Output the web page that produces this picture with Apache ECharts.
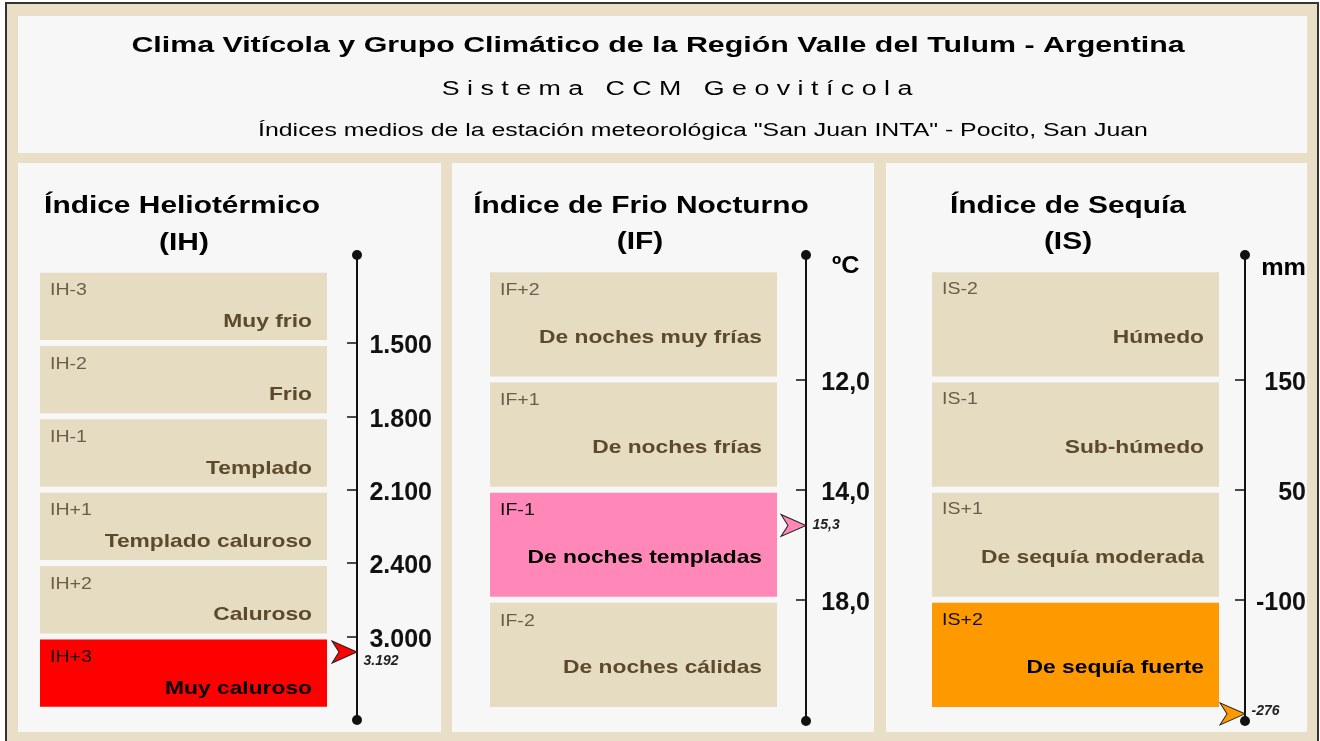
<!DOCTYPE html>
<html>
<head>
<meta charset="utf-8">
<script src="https://cdn.jsdelivr.net/npm/echarts@6/dist/echarts.min.js"></script>
<style>
  html, body { margin: 0; padding: 0; background: #fff; }
  #chart { width: 1320px; height: 741px; }
</style>
</head>
<body>
<div id="chart"></div>
<script>
// Índice Heliotérmico
const ihCodigos = ['IH-3', 'IH-2', 'IH-1', 'IH+1', 'IH+2', 'IH+3'];
const ihClases = ['Muy frio', 'Frio', 'Templado', 'Templado caluroso', 'Caluroso', 'Muy caluroso'];
const ihUmbrales = [1500, 1800, 2100, 2400, 3000];
const ihExtremos = [1200, 3900];
const ihValor = 3192;

// Índice de Frio Nocturno (ºC)
const ifCodigos = ['IF+2', 'IF+1', 'IF-1', 'IF-2'];
const ifClases = ['De noches muy frías', 'De noches frías', 'De noches templadas', 'De noches cálidas'];
const ifUmbrales = [12, 14, 18];
const ifExtremos = [10, 22];
const ifValor = 15.3;

// Índice de Sequía (mm)
const isCodigos = ['IS-2', 'IS-1', 'IS+1', 'IS+2'];
const isClases = ['Húmedo', 'Sub-húmedo', 'De sequía moderada', 'De sequía fuerte'];
const isUmbrales = [150, 50, -100];
const isExtremos = [250, -270];
const isValor = -276;

const FUENTE = '"Liberation Sans", Arial, sans-serif';
const BEIGE = '#E6DCC2';
const FONDO = '#F7F7F7';
const MARCO = '#E8DFC6';
const FLECHA = 'path://M0,0 L25,11 L0,22 L7,11 Z';

const miles = v => Math.round(v).toString().replace(/\B(?=(\d{3})+(?!\d))/g, '.');
const decimal = v => v.toFixed(1).replace('.', ',');
const entero = v => Math.round(v).toString();

// posición (en cajas) de un valor sobre la escala por tramos
function posicion(v, escala) {
  let i = 0;
  while (i < escala.length - 2 && (v - escala[i]) * (v - escala[i + 1]) > 0) i++;
  return i + (v - escala[i]) / (escala[i + 1] - escala[i]);
}

const paneles = [
  { codigos: ihCodigos, clases: ihClases, umbrales: ihUmbrales, extremos: ihExtremos, valor: ihValor,
    fmt: miles, color: '#FF0000', left: 40, width: 317, top: 255, height: 465, min: -0.2, max: 6.14,
    margen: 75, codeDy: 18, descDy: 49, marcaDy: 9 },
  { codigos: ifCodigos, clases: ifClases, umbrales: ifUmbrales, extremos: ifExtremos, valor: ifValor,
    fmt: decimal, color: '#FF88B8', left: 490, width: 316, top: 255, height: 466, min: -0.13, max: 4.1,
    margen: 64, codeDy: 18, descDy: 65, marcaDy: 0 },
  { codigos: isCodigos, clases: isClases, umbrales: isUmbrales, extremos: isExtremos, valor: isValor,
    fmt: entero, color: '#FF9900', left: 932, width: 313, top: 255, height: 466, min: -0.13, max: 4.1,
    margen: 61, codeDy: 17, descDy: 65, marcaDy: -3 }
];

const grid = [], xAxis = [], yAxis = [], series = [];

paneles.forEach((p, k) => {
  const escala = [p.extremos[0], ...p.umbrales, p.extremos[1]];
  const pos = posicion(p.valor, escala);
  const activo = Math.max(0, Math.min(p.clases.length - 1, Math.floor(pos)));
  const marcas = p.umbrales.map((u, i) => i + 1);

  grid.push({ left: p.left, top: p.top, width: p.width, height: p.height, outerBoundsMode: 'none' });
  xAxis.push({ gridIndex: k, type: 'value', min: 0, max: 1, show: false });
  yAxis.push({
    gridIndex: k, type: 'value', inverse: true, position: 'right',
    min: p.min, max: p.max,
    splitLine: { show: false },
    axisLine: { show: true, onZero: false, symbol: ['circle', 'circle'], symbolSize: [10, 10],
      lineStyle: { color: '#111', width: 2 } },
    axisTick: { show: true, inside: true, length: 10, customValues: marcas,
      lineStyle: { color: '#111', width: 1.5 } },
    axisLabel: { show: true, customValues: marcas, align: 'right', margin: p.margen,
      formatter: v => '{v|' + p.fmt(p.umbrales[Math.round(v) - 1]) + '}',
      rich: { v: { padding: [7, 0, 0, 0], color: '#111', fontFamily: FUENTE,
        fontWeight: 'bold', fontSize: 25 } } }
  });

  series.push({
    type: 'custom', xAxisIndex: k, yAxisIndex: k, silent: true, clip: false,
    data: p.clases.map((c, i) => [i, i + 1]),
    renderItem: (params, api) => {
      const i = params.dataIndex;
      const y0 = api.coord([0, api.value(0)])[1] + 3;
      const y1 = api.coord([0, api.value(1)])[1] - 3;
      const x0 = params.coordSys.x;
      const w = 287;
      const on = i === activo;
      return {
        type: 'group',
        children: [
          { type: 'rect', shape: { x: x0, y: y0, width: w, height: y1 - y0 },
            style: { fill: on ? p.color : BEIGE } },
          { type: 'text', x: x0 + 10, y: y0 + p.codeDy, scaleX: 1.15,
            style: { text: p.codigos[i], fill: on ? '#111' : '#6B5E4A',
              font: '17px ' + FUENTE, align: 'left', verticalAlign: 'middle' } },
          { type: 'text', x: x0 + w - 15, y: y0 + p.descDy, scaleX: 1.2,
            style: { text: p.clases[i], fill: on ? '#000' : '#5B4A2B',
              font: 'bold 19px ' + FUENTE, align: 'right', verticalAlign: 'middle' } }
        ]
      };
    }
  });

  series.push({
    type: 'scatter', xAxisIndex: k, yAxisIndex: k, silent: true, clip: false, z: 5,
    data: [[1, pos]],
    symbol: FLECHA, symbolSize: [25, 22], symbolOffset: [-12.5, 0],
    itemStyle: { color: p.color, borderColor: '#222', borderWidth: 1, opacity: 1 },
    label: { show: true, position: 'right', distance: 6, offset: [0, p.marcaDy],
      formatter: () => p.fmt(p.valor),
      color: '#222', fontFamily: FUENTE, fontSize: 14, fontWeight: 'bold', fontStyle: 'italic' }
  });
});

function texto(t, x, y, size, bold, sx, align) {
  return { type: 'text', x: x, y: y, scaleX: sx, z: 10,
    style: { text: t, fill: '#000', font: (bold ? 'bold ' : '') + size + 'px ' + FUENTE,
      align: align || 'center', verticalAlign: 'middle' } };
}

const graphic = [
  { type: 'rect', z: -10, shape: { x: 6, y: 3, width: 1312, height: 760 },
    style: { fill: MARCO, stroke: '#333', lineWidth: 2 } },
  { type: 'rect', z: -9, shape: { x: 18, y: 16, width: 1289, height: 137 }, style: { fill: FONDO } },
  { type: 'rect', z: -9, shape: { x: 18, y: 163, width: 423, height: 569 }, style: { fill: FONDO } },
  { type: 'rect', z: -9, shape: { x: 452, y: 163, width: 422, height: 569 }, style: { fill: FONDO } },
  { type: 'rect', z: -9, shape: { x: 886, y: 163, width: 421, height: 569 }, style: { fill: FONDO } },
  texto('Clima Vitícola y Grupo Climático de la Región Valle del Tulum - Argentina', 658, 46, 22, true, 1.38),
  texto('S i s t e m a   C C M   G e o v i t í c o l a', 677, 89, 20, false, 1.34),
  texto('Índices medios de la estación meteorológica "San Juan INTA" - Pocito, San Juan', 703, 131, 18, false, 1.38),
  texto('Índice Heliotérmico', 182, 207, 23, true, 1.3),
  texto('(IH)', 184, 244, 23, true, 1.3),
  texto('Índice de Frio Nocturno', 641, 207, 23, true, 1.3),
  texto('(IF)', 640, 243, 23, true, 1.3),
  texto('Índice de Sequía', 1068, 207, 23, true, 1.3),
  texto('(IS)', 1068, 243, 23, true, 1.3),
  texto('ºC', 832, 266, 24, true, 1.05, 'left'),
  texto('mm', 1306, 268, 24, true, 1.05, 'right')
];

const chart = echarts.init(document.getElementById('chart'));
chart.setOption({
  animation: false,
  backgroundColor: '#fff',
  graphic: graphic,
  grid: grid,
  xAxis: xAxis,
  yAxis: yAxis,
  series: series
});
</script>
</body>
</html>
